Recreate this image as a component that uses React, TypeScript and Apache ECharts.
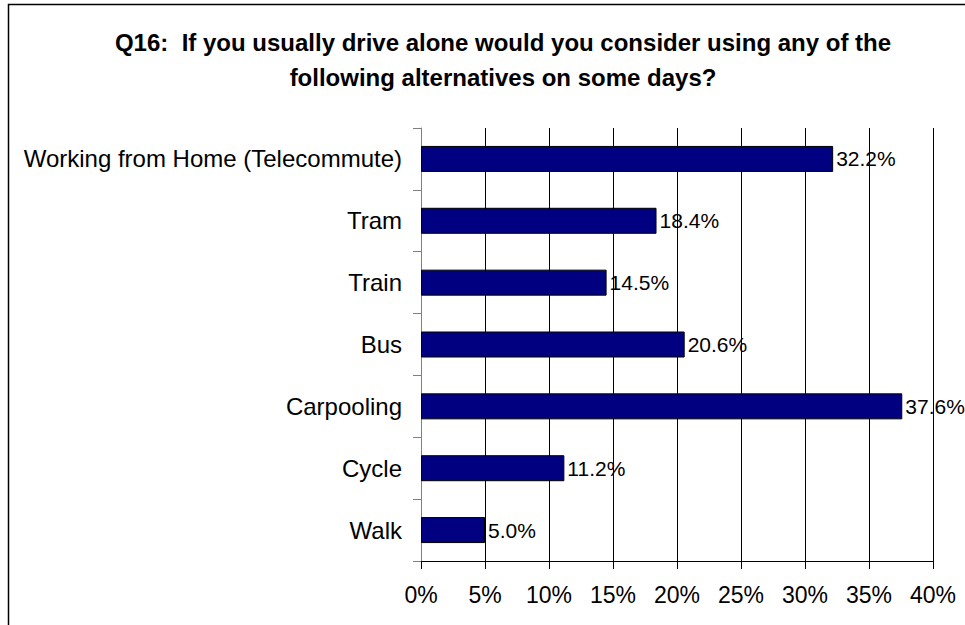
import React, { useEffect, useRef } from "react";
import * as echarts from "echarts";

const categories = [
  "Working from Home (Telecommute)",
  "Tram",
  "Train",
  "Bus",
  "Carpooling",
  "Cycle",
  "Walk",
];
const values = [32.2, 18.4, 14.5, 20.6, 37.6, 11.2, 5.0];
const titleLines = [
  "Q16:  If you usually drive alone would you consider using any of the",
  "following alternatives on some days?",
];

const FONT = "'Liberation Sans', Arial, Helvetica, sans-serif";

export default function App() {
  const ref = useRef<HTMLDivElement>(null);
  useEffect(() => {
    if (!ref.current) return;
    const chart = echarts.init(ref.current, null, { renderer: "svg" });
    chart.setOption({
      animation: false,
      backgroundColor: "#fff",
      graphic: [
        {
          type: "rect",
          shape: { x: 8.5, y: 4.5, width: 1000, height: 1000 },
          style: { fill: "none", stroke: "#000", lineWidth: 1.5 },
          silent: true,
        },
        {
          type: "text",
          x: 503,
          y: 60,
          style: {
            text: titleLines.join("\n"),
            font: `bold 24px ${FONT}`,
            fill: "#000",
            textAlign: "center",
            textVerticalAlign: "middle",
            lineHeight: 35,
          },
        },
      ],
      grid: { left: 421, top: 128, width: 512, height: 433, containLabel: false },
      xAxis: {
        type: "value",
        min: 0,
        max: 40,
        interval: 5,
        axisLine: { show: true, lineStyle: { color: "#000", width: 1 } },
        axisTick: { show: true, length: 8, lineStyle: { color: "#000" } },
        splitLine: { show: true, lineStyle: { color: "#000", width: 1 } },
        axisLabel: {
          formatter: "{value}%",
          fontSize: 23,
          fontFamily: FONT,
          color: "#000",
          margin: 22,
        },
      },
      yAxis: {
        type: "category",
        data: categories,
        inverse: true,
        axisLine: { show: true, lineStyle: { color: "#808080", width: 1 } },
        axisTick: { show: true, length: 8, lineStyle: { color: "#808080" } },
        axisLabel: {
          fontSize: 24,
          fontFamily: FONT,
          color: "#000",
          margin: 19,
        },
      },
      series: [
        {
          type: "bar",
          data: values,
          barWidth: 26,
          itemStyle: { color: "#000080", borderColor: "#000", borderWidth: 1 },
          label: {
            show: true,
            position: "right",
            distance: 3,
            formatter: (p: any) => p.value.toFixed(1) + "%",
            fontSize: 21,
            fontFamily: FONT,
            color: "#000",
          },
        },
      ],
    });
    return () => chart.dispose();
  }, []);
  return (
    <div
      ref={ref}
      style={{ position: "absolute", left: 0, top: 0, width: 965, height: 625 }}
    />
  );
}
